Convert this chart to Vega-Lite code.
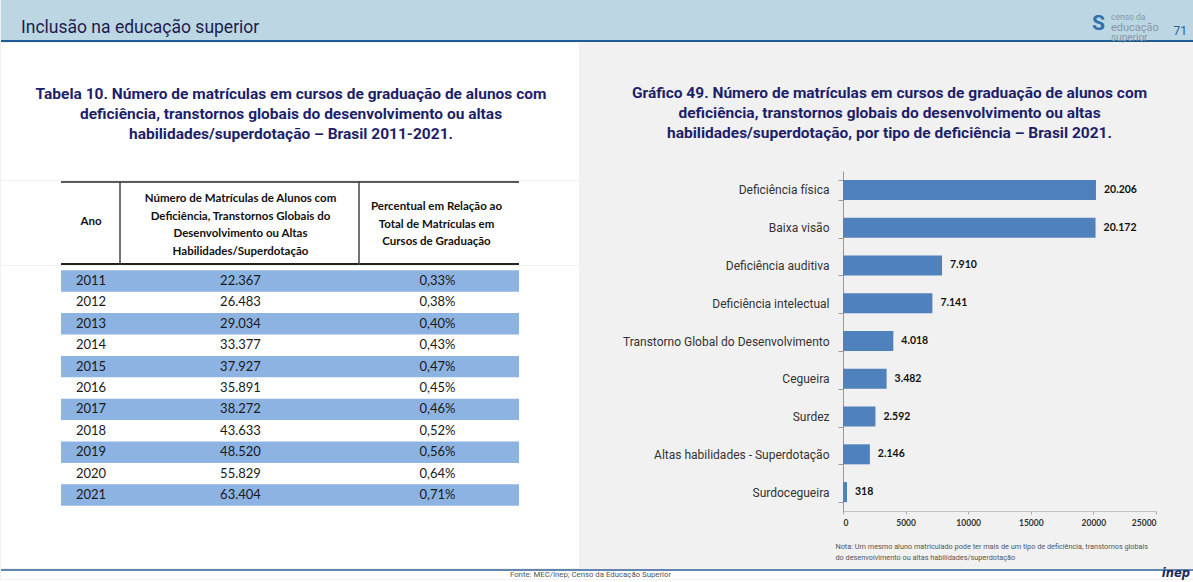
{
  "$schema": "https://vega.github.io/schema/vega-lite/v6.json",
  "padding": 0,
  "background": "#f1f1f1",
  "spacing": 0,
  "config": {
    "view": {"stroke": null},
    "concat": {"spacing": 0},
    "font": "Roboto",
    "locale": {"number": {"decimal": ",", "thousands": ".", "grouping": [3], "currency": ["R$", ""]}}
  },
  "datasets": {
    "tabela": [
      {"Ano": 2011, "Matriculas": 22367, "Percentual": 0.0033},
      {"Ano": 2012, "Matriculas": 26483, "Percentual": 0.0038},
      {"Ano": 2013, "Matriculas": 29034, "Percentual": 0.0040},
      {"Ano": 2014, "Matriculas": 33377, "Percentual": 0.0043},
      {"Ano": 2015, "Matriculas": 37927, "Percentual": 0.0047},
      {"Ano": 2016, "Matriculas": 35891, "Percentual": 0.0045},
      {"Ano": 2017, "Matriculas": 38272, "Percentual": 0.0046},
      {"Ano": 2018, "Matriculas": 43633, "Percentual": 0.0052},
      {"Ano": 2019, "Matriculas": 48520, "Percentual": 0.0056},
      {"Ano": 2020, "Matriculas": 55829, "Percentual": 0.0064},
      {"Ano": 2021, "Matriculas": 63404, "Percentual": 0.0071}
    ],
    "grafico": [
      {"tipo": "Deficiência física", "matriculas": 20206},
      {"tipo": "Baixa visão", "matriculas": 20172},
      {"tipo": "Deficiência auditiva", "matriculas": 7910},
      {"tipo": "Deficiência intelectual", "matriculas": 7141},
      {"tipo": "Transtorno Global do Desenvolvimento", "matriculas": 4018},
      {"tipo": "Cegueira", "matriculas": 3482},
      {"tipo": "Surdez", "matriculas": 2592},
      {"tipo": "Altas habilidades - Superdotação", "matriculas": 2146},
      {"tipo": "Surdocegueira", "matriculas": 318}
    ]
  },
  "vconcat": [
    {
      "width": 1193, "height": 42,
      "view": {"fill": "#bcd6e4"},
      "layer": [
        {"data": {"values": [{}]}, "mark": {"type": "rule", "color": "#1f5b95", "strokeWidth": 2, "yOffset": -1}, "encoding": {"y": {"value": "height"}}},
        {"data": {"values": [{"t": "Inclusão na educação superior"}]}, "mark": {"type": "text", "align": "left", "baseline": "middle", "dx": 20, "dy": 7, "font": "Roboto", "fontSize": 17.5, "color": "#1c1c4e"}, "encoding": {"x": {"value": 0}, "text": {"field": "t"}}},
        {"data": {"values": [{"t": "71"}]}, "mark": {"type": "text", "align": "right", "dx": -7, "dy": 10, "font": "Roboto", "fontSize": 12, "color": "#2f5f8f"}, "encoding": {"x": {"value": "width"}, "text": {"field": "t"}}},
        {"data": {"values": [{"t": "censo da"}]}, "mark": {"type": "text", "align": "left", "dx": -83, "dy": -4, "font": "Roboto", "fontSize": 8.5, "color": "#8a96a8"}, "encoding": {"x": {"value": "width"}, "text": {"field": "t"}}},
        {"data": {"values": [{"t": "educação"}]}, "mark": {"type": "text", "align": "left", "dx": -83, "dy": 7, "font": "Roboto", "fontSize": 11, "color": "#8a96a8"}, "encoding": {"x": {"value": "width"}, "text": {"field": "t"}}},
        {"data": {"values": [{"t": "superior"}]}, "mark": {"type": "text", "align": "left", "dx": -83, "dy": 17, "font": "Roboto", "fontSize": 10, "color": "#8a96a8"}, "encoding": {"x": {"value": "width"}, "text": {"field": "t"}}},
        {"data": {"values": [{"t": "S"}]}, "mark": {"type": "text", "align": "left", "dx": -102, "dy": 3, "font": "Roboto", "fontWeight": "bold", "fontSize": 21, "color": "#2e6fad"}, "encoding": {"x": {"value": "width"}, "text": {"field": "t"}}}
      ]
    },
    {
      "hconcat": [
        {
          "vconcat": [
            {
              "width": 578, "height": 137,
              "view": {"fill": "white"},
              "data": {"values": [{"t": "Tabela 10. Número de matrículas em cursos de graduação de alunos com\ndeficiência, transtornos globais do desenvolvimento ou altas\nhabilidades/superdotação – Brasil 2011-2021."}]},
              "mark": {"type": "text", "lineBreak": "\n", "font": "Roboto", "fontSize": 15.5, "fontWeight": "bold", "lineHeight": 20, "color": "#1d1f6b", "dx": 1, "dy": -18},
              "encoding": {"text": {"field": "t"}}
            },
            {
              "vconcat": [
                {
                  "bounds": "flush",
                  "hconcat": [
                    {"width": 60, "height": 84, "view": {"fill": "white"}, "data": {"values": []}, "mark": "point"},
                    {
                      "width": 60, "height": 84, "view": {"fill": "white"},
                      "data": {"values": [{"t": "Ano"}]},
                      "layer": [
                        {"mark": {"type": "text", "lineBreak": "\n", "font": "Lato", "fontWeight": "bold", "fontSize": 11.5, "lineHeight": 17.5, "color": "#111", "dy": -1}, "encoding": {"text": {"field": "t"}}},
                        {"mark": {"type": "rule", "color": "#222", "strokeWidth": 1.5, "yOffset": 1}, "encoding": {"y": {"value": 0}}},
                        {"mark": {"type": "rule", "color": "#222", "strokeWidth": 2, "yOffset": -1}, "encoding": {"y": {"value": "height"}}},
                        {"mark": {"type": "rule", "color": "#444", "strokeWidth": 1.5, "xOffset": -1}, "encoding": {"x": {"value": "width"}}}
                      ]
                    },
                    {
                      "width": 239, "height": 84, "view": {"fill": "white"},
                      "data": {"values": [{"t": "Número de Matrículas de Alunos com\nDeficiência, Transtornos Globais do\nDesenvolvimento ou Altas\nHabilidades/Superdotação"}]},
                      "layer": [
                        {"mark": {"type": "text", "lineBreak": "\n", "font": "Lato", "fontWeight": "bold", "fontSize": 11.5, "lineHeight": 17.5, "color": "#111", "dy": -24}, "encoding": {"text": {"field": "t"}}},
                        {"mark": {"type": "rule", "color": "#222", "strokeWidth": 1.5, "yOffset": 1}, "encoding": {"y": {"value": 0}}},
                        {"mark": {"type": "rule", "color": "#222", "strokeWidth": 2, "yOffset": -1}, "encoding": {"y": {"value": "height"}}},
                        {"mark": {"type": "rule", "color": "#444", "strokeWidth": 1.5, "xOffset": -1}, "encoding": {"x": {"value": "width"}}}
                      ]
                    },
                    {
                      "width": 159, "height": 84, "view": {"fill": "white"},
                      "data": {"values": [{"t": "Percentual em Relação ao\nTotal de Matrículas em\nCursos de Graduação"}]},
                      "layer": [
                        {"mark": {"type": "text", "lineBreak": "\n", "font": "Lato", "fontWeight": "bold", "fontSize": 11.5, "lineHeight": 17.5, "color": "#111", "dx": -3, "dy": -16}, "encoding": {"text": {"field": "t"}}},
                        {"mark": {"type": "rule", "color": "#222", "strokeWidth": 1.5, "yOffset": 1}, "encoding": {"y": {"value": 0}}},
                        {"mark": {"type": "rule", "color": "#222", "strokeWidth": 2, "yOffset": -1}, "encoding": {"y": {"value": "height"}}}
                      ]
                    },
                    {"width": 60, "height": 84, "view": {"fill": "white"}, "data": {"values": []}, "mark": "point"}
                  ]
                },
                {
                  "bounds": "flush",
                  "hconcat": [
                    {"width": 60, "height": 244, "view": {"fill": "white"}, "data": {"values": []}, "mark": "point"},
                    {
                      "width": 60, "height": 244, "view": {"fill": "white"},
                      "data": {"name": "tabela"},
                      "encoding": {"y": {"field": "Ano", "type": "ordinal", "scale": {"type": "band", "paddingInner": 0, "paddingOuter": 0.2}, "axis": null}},
                      "layer": [
                        {"transform": [{"filter": "datum.Ano % 2 == 1"}], "mark": {"type": "rect", "color": "#8db3e2"}, "encoding": {"x": {"value": 0}, "x2": {"value": "width"}}},
                        {"mark": {"type": "text", "font": "Lato", "fontSize": 13, "color": "#1a1a1a"}, "encoding": {"text": {"field": "Ano", "type": "nominal"}}}
                      ]
                    },
                    {
                      "width": 239, "height": 244, "view": {"fill": "white"},
                      "data": {"name": "tabela"},
                      "encoding": {"y": {"field": "Ano", "type": "ordinal", "scale": {"type": "band", "paddingInner": 0, "paddingOuter": 0.2}, "axis": null}},
                      "layer": [
                        {"transform": [{"filter": "datum.Ano % 2 == 1"}], "mark": {"type": "rect", "color": "#8db3e2"}, "encoding": {"x": {"value": 0}, "x2": {"value": "width"}}},
                        {"mark": {"type": "text", "font": "Lato", "fontSize": 13, "color": "#1a1a1a"}, "encoding": {"text": {"field": "Matriculas", "type": "quantitative", "format": ",d"}}}
                      ]
                    },
                    {
                      "width": 159, "height": 244, "view": {"fill": "white"},
                      "data": {"name": "tabela"},
                      "encoding": {"y": {"field": "Ano", "type": "ordinal", "scale": {"type": "band", "paddingInner": 0, "paddingOuter": 0.2}, "axis": null}},
                      "layer": [
                        {"transform": [{"filter": "datum.Ano % 2 == 1"}], "mark": {"type": "rect", "color": "#8db3e2"}, "encoding": {"x": {"value": 0}, "x2": {"value": "width"}}},
                        {"mark": {"type": "text", "font": "Lato", "fontSize": 13, "color": "#1a1a1a", "dx": -2}, "encoding": {"text": {"field": "Percentual", "type": "quantitative", "format": ".2%"}}}
                      ]
                    },
                    {"width": 60, "height": 244, "view": {"fill": "white"}, "data": {"values": []}, "mark": "point"}
                  ]
                }
              ]
            },
            {"width": 578, "height": 58, "view": {"fill": "white"}, "data": {"values": []}, "mark": "point"}
          ]
        },
        {
          "vconcat": [
            {
              "width": 313, "height": 122,
              "data": {"values": [{"t": "Gráfico 49. Número de matrículas em cursos de graduação de alunos com\ndeficiência, transtornos globais do desenvolvimento ou altas\nhabilidades/superdotação, por tipo de deficiência – Brasil 2021."}]},
              "mark": {"type": "text", "lineBreak": "\n", "font": "Roboto", "fontSize": 15.5, "fontWeight": "bold", "lineHeight": 20, "color": "#1d1f6b", "dx": -110, "dy": -11},
              "encoding": {"text": {"field": "t"}}
            },
            {
              "width": 313, "height": 340,
              "data": {"name": "grafico"},
              "encoding": {
                "y": {
                  "field": "tipo", "type": "nominal", "sort": null,
                  "scale": {"paddingInner": 0.47, "paddingOuter": 0.235},
                  "axis": {"title": null, "labelFont": "Roboto", "labelFontSize": 12, "labelColor": "#333", "domainColor": "#999", "tickColor": "#999", "tickSize": 5, "tickBand": "extent", "labelPadding": 9, "minExtent": 264, "labelLimit": 400}
                },
                "x": {
                  "field": "matriculas", "type": "quantitative",
                  "scale": {"domain": [0, 25000], "nice": false},
                  "axis": {
                    "values": [0, 5000, 10000, 15000, 20000, 25000], "format": "d", "grid": false,
                    "domainColor": "#c0c0c0", "tickColor": "#aaa", "tickSize": 3,
                    "labelFont": "Lato", "labelFontWeight": "bold", "labelFontSize": 8.5, "labelColor": "#333", "labelPadding": 4,
                    "title": ["Nota: Um mesmo aluno matriculado pode ter mais de um tipo de deficiência, transtornos globais", "do desenvolvimento ou altas habilidades/superdotação"],
                    "titleFont": "Roboto", "titleFontSize": 7.3, "titleFontWeight": "normal", "titleColor": "#555",
                    "titleAnchor": "start", "titleAlign": "left", "titleBaseline": "top", "titleX": -8, "titleY": 31, "titleLineHeight": 11
                  }
                }
              },
              "layer": [
                {"mark": {"type": "bar", "color": "#4f81bd"}},
                {"mark": {"type": "text", "align": "left", "baseline": "middle", "dx": 8, "font": "Lato", "fontWeight": "bold", "fontSize": 10.5, "color": "#111"}, "encoding": {"text": {"field": "matriculas", "type": "quantitative", "format": ",d"}}}
              ]
            }
          ]
        }
      ]
    },
    {
      "width": 1193, "height": 10,
      "view": {"fill": "white"},
      "layer": [
        {"data": {"values": [{}]}, "mark": {"type": "rule", "color": "#2a5d96", "strokeWidth": 1.5, "yOffset": 1}, "encoding": {"y": {"value": 0}}},
        {"data": {"values": [{"t": "Fonte: MEC/Inep; Censo da Educação Superior"}]}, "mark": {"type": "text", "font": "Roboto", "fontSize": 7.8, "color": "#555", "dx": -7, "dy": 1}, "encoding": {"text": {"field": "t"}}},
        {"data": {"values": [{"t": "inep"}]}, "mark": {"type": "text", "align": "right", "dx": -4, "dy": 0, "font": "DejaVu Sans", "fontWeight": "bold", "fontStyle": "italic", "fontSize": 11.5, "color": "#1c2a5c"}, "encoding": {"x": {"value": "width"}, "text": {"field": "t"}}}
      ]
    }
  ]
}
